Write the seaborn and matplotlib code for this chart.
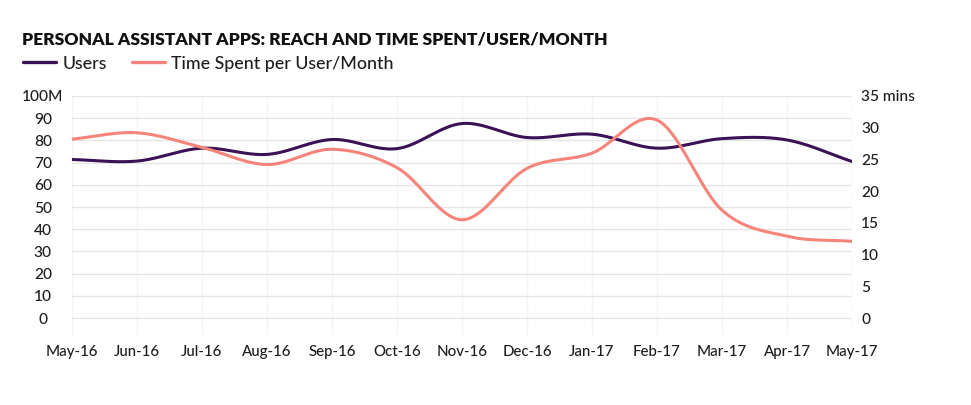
import numpy as np
import pandas as pd
import matplotlib
matplotlib.use("Agg")
import matplotlib.pyplot as plt
import seaborn as sns

months = ["May-16", "Jun-16", "Jul-16", "Aug-16", "Sep-16", "Oct-16", "Nov-16",
          "Dec-16", "Jan-17", "Feb-17", "Mar-17", "Apr-17", "May-17"]
users_m = [71.4, 70.7, 76.5, 73.7, 80.4, 76.3, 87.6, 81.3, 82.8, 76.5, 80.8, 80.2, 70.5]
time_mins = [28.2, 29.2, 26.9, 24.2, 26.6, 23.7, 15.5, 23.6, 26.0, 31.2, 17.0, 12.9, 12.1]
left_ticks = [0, 10, 20, 30, 40, 50, 60, 70, 80, 90, 100]
left_labels = ["0", "10", "20", "30", "40", "50", "60", "70", "80", "90", "100M"]
right_ticks = [0, 5, 10, 15, 20, 25, 30, 35]
right_labels = ["0", "5", "10", "15", "20", "25", "30", "35 mins"]

USERS_C = "#3a1255"
TIME_C = "#f7847a"
TEXT_C = "#1e1e1e"


def smooth(y, n=40):
    # cubic hermite through the points (catmull-rom style tangents), for a spline look
    y = np.asarray(y, dtype=float)
    k = len(y)
    m = np.zeros(k)
    m[1:-1] = (y[2:] - y[:-2]) / 2
    m[0] = y[1] - y[0]
    m[-1] = y[-1] - y[-2]
    xs, ys = [], []
    for i in range(k - 1):
        t = np.linspace(0, 1, n, endpoint=False)
        h00 = 2 * t**3 - 3 * t**2 + 1
        h10 = t**3 - 2 * t**2 + t
        h01 = -2 * t**3 + 3 * t**2
        h11 = t**3 - t**2
        xs.append(i + t)
        ys.append(h00 * y[i] + h10 * m[i] + h01 * y[i + 1] + h11 * m[i + 1])
    xs.append(np.array([k - 1.0]))
    ys.append(np.array([y[-1]]))
    return np.concatenate(xs), np.concatenate(ys)


sns.set_style("white")
plt.rcParams["font.family"] = ["Lato", "DejaVu Sans"]

fig = plt.figure(figsize=(9.71, 4.05), dpi=100)
ax = fig.add_axes([0.0742, 0.1728, 0.8033, 0.5902])
ax2 = ax.twinx()

ux, uy = smooth(users_m)
tx, ty = smooth(time_mins)
users_df = pd.DataFrame({"x": ux, "y": uy})
time_df = pd.DataFrame({"x": tx, "y": ty})

sns.lineplot(data=users_df, x="x", y="y", ax=ax, color=USERS_C, linewidth=2.2, zorder=3)
sns.lineplot(data=time_df, x="x", y="y", ax=ax2, color=TIME_C, linewidth=2.2, zorder=3)

ax.set_xlim(0, len(months) - 1)
ax.set_ylim(-7.6, 100)
ax2.set_ylim(-7.6 * 0.35, 35)

ax.set_xticks(range(len(months)))
ax.set_xticklabels(months, fontweight="medium")
ax.set_yticks(left_ticks)
ax.set_yticklabels(left_labels, ha="center", fontweight="medium")
ax2.set_yticks(right_ticks)
ax2.set_yticklabels(right_labels, fontweight="medium")

ax.grid(axis="y", color="#e6e6e6", linewidth=1)
ax.grid(axis="x", color="#f4f4f4", linewidth=1)
ax2.grid(False)
ax.set_axisbelow(True)

ax.tick_params(axis="y", length=0, pad=21, labelsize=11.2, labelcolor=TEXT_C)
ax.tick_params(axis="x", length=0, pad=7, labelsize=10.8, labelcolor=TEXT_C)
ax2.tick_params(axis="y", length=0, pad=6.5, labelsize=11.2, labelcolor=TEXT_C)
ax.set_xlabel("")
ax.set_ylabel("")
ax2.set_ylabel("")
for a in (ax, ax2):
    for s in a.spines.values():
        s.set_visible(False)

fig.text(0.0227, 0.902, "PERSONAL ASSISTANT APPS: REACH AND TIME SPENT/USER/MONTH",
         fontsize=12.6, fontweight="heavy", color="#111111", va="center", ha="left")

handles = [plt.Line2D([], [], color=USERS_C, linewidth=2.4),
           plt.Line2D([], [], color=TIME_C, linewidth=2.4)]
fig.legend(handles, ["Users", "Time Spent per User/Month"], loc="center left",
           bbox_to_anchor=(0.007, 0.843), ncol=2, frameon=False,
           prop={"size": 12.8, "weight": "medium"},
           handlelength=1.85, handletextpad=0.38, columnspacing=1.4, labelcolor=TEXT_C)

fig.savefig("out.png", dpi=100, facecolor="white")
